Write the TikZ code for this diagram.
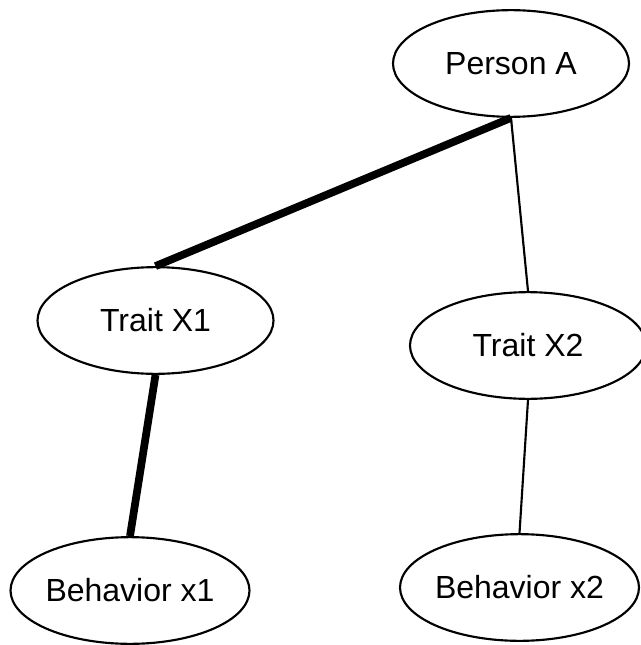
\documentclass[tikz,border=0pt]{standalone}
\usepackage{fontspec}
\setmainfont{Liberation Sans}
\usetikzlibrary{shapes.geometric}
\begin{document}
\begin{tikzpicture}[x=0.75pt,y=-0.75pt,
  oval/.style={ellipse,draw,line width=1.6pt,inner sep=0pt,
    minimum width=177pt,minimum height=80pt,
    font=\fontsize{24pt}{28pt}\selectfont},
  strong/.style={line width=5.8pt},
  weak/.style={line width=1.6pt}]
  \useasboundingbox (0,0) rectangle (641,645);
  % concept nodes
  \node[oval] (pa)  at (511,63.5)  {Person A};
  \node[oval] (tx1) at (155.5,320.5) {Trait X1};
  \node[oval] (tx2) at (528,345.5) {Trait X2};
  \node[oval] (bx1) at (130,590.5) {Behavior x1};
  \node[oval] (bx2) at (519.5,587.5) {Behavior x2};
  % links, thick for the strong associations
  \draw[strong] (pa.south) -- (tx1.north);
  \draw[weak]   (pa.south) -- (tx2.north);
  \draw[strong] (tx1.south) -- (bx1.north);
  \draw[weak]   (tx2.south) -- (bx2.north);
\end{tikzpicture}
\end{document}
